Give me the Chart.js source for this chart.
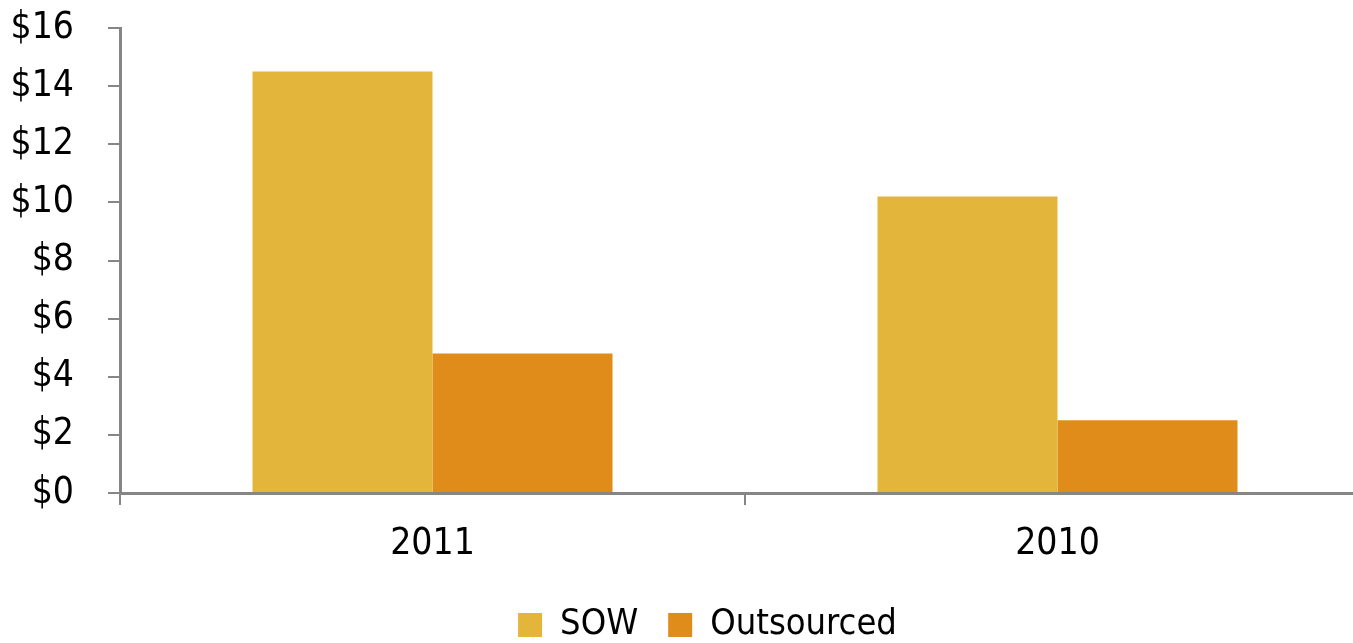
<!DOCTYPE html>
<html>
<head>
<meta charset="utf-8">
<script src="https://cdn.jsdelivr.net/npm/chart.js@4/dist/chart.umd.min.js"></script>
<style>
  html, body { margin: 0; padding: 0; background: #fff; overflow: hidden; }
  #wrap { width: 1415px; height: 643px; }
</style>
</head>
<body>
<div id="wrap"><canvas id="bars" width="1415" height="643"></canvas></div>
<script>
const years = ['2011', '2010'];
const sowValues = [14.5, 10.2];
const outsourcedValues = [4.8, 2.5];
const yTicks = [0, 2, 4, 6, 8, 10, 12, 14, 16];

const FONT = '"DejaVu Sans Condensed", "Liberation Sans Narrow", sans-serif';
const AXIS_GREY = '#868686';

new Chart(document.getElementById('bars'), {
    type: 'bar',
    data: {
        labels: years,
        datasets: [
            { label: 'SOW', data: sowValues, backgroundColor: '#E3B53A' },
            { label: 'Outsourced', data: outsourcedValues, backgroundColor: '#DF8C1A' }
        ]
    },
    options: {
        responsive: false,
        animation: false,
        categoryPercentage: 0.576,
        barPercentage: 1,
        layout: { padding: { top: 28, left: 0, right: 0, bottom: -10 } },
        plugins: {
            tooltip: { enabled: false },
            legend: {
                position: 'bottom',
                labels: {
                    color: '#000',
                    font: { family: FONT, size: 36 },
                    boxWidth: 24,
                    boxHeight: 24,
                    padding: 30
                }
            }
        },
        scales: {
            x: {
                grid: { offset: true, drawOnChartArea: false, drawTicks: true, tickLength: 12, color: AXIS_GREY, lineWidth: 2 },
                border: { display: true, color: AXIS_GREY, width: 3 },
                ticks: { color: '#000', font: { family: FONT, size: 37 }, padding: 17 },
                afterFit: (scale) => {
                    scale.height = 84;
                    // plot runs past the right edge of the page
                    scale.paddingRight = 45;
                }
            },
            y: {
                min: 0,
                max: 16,
                afterBuildTicks: (scale) => { scale.ticks = yTicks.map(v => ({ value: v })); },
                grid: { drawOnChartArea: false, drawTicks: true, tickLength: 12, color: AXIS_GREY, lineWidth: 2 },
                border: { display: true, color: AXIS_GREY, width: 3 },
                ticks: { color: '#000', font: { family: FONT, size: 37 }, padding: 34, callback: v => '$' + v },
                afterFit: (scale) => {
                    scale.width = 120;
                    scale.paddingTop = 0;
                    scale.paddingBottom = 0;
                }
            }
        }
    }
});
</script>
</body>
</html>
